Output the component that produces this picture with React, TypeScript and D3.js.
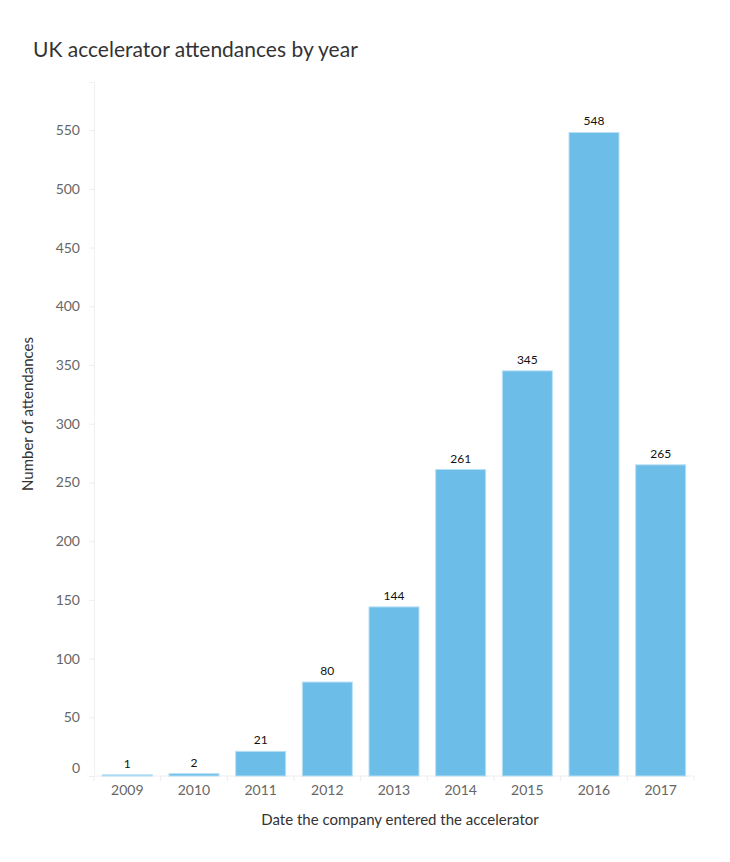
import React, { useEffect, useRef } from "react";
import * as d3 from "d3";

const years = ["2009", "2010", "2011", "2012", "2013", "2014", "2015", "2016", "2017"];
const attendances = [1, 2, 21, 80, 144, 261, 345, 548, 265];
const yTicks = [0, 50, 100, 150, 200, 250, 300, 350, 400, 450, 500, 550];

const title = "UK accelerator attendances by year";
const xTitle = "Date the company entered the accelerator";
const yTitle = "Number of attendances";

export default function App() {
  const svgRef = useRef<SVGSVGElement | null>(null);

  useEffect(() => {
    const width = 730,
      height = 862;
    const margin = { top: 82, right: 36, bottom: 86, left: 94 };
    const font = "'Source Sans Pro', Lato, 'Open Sans', sans-serif";

    const svg = d3.select(svgRef.current);
    svg.selectAll("*").remove();

    const x = d3
      .scaleBand()
      .domain(years)
      .range([margin.left, width - margin.right])
      .paddingInner(0.25)
      .paddingOuter(0.125);

    const y = d3
      .scaleLinear()
      .domain([0, 591])
      .range([height - margin.bottom, margin.top]);

    // title
    svg
      .append("text")
      .attr("x", 33)
      .attr("y", 57)
      .attr("font-family", font)
      .attr("font-size", 21)
      .attr("fill", "#333")
      .text(title);

    // y axis
    const yAxis = svg
      .append("g")
      .attr("transform", `translate(${margin.left},0)`)
      .call(d3.axisLeft(y).tickValues(yTicks).tickSize(5).tickPadding(9));
    yAxis.select(".domain").attr("stroke", "#f0f0f0");
    yAxis.selectAll(".tick line").attr("stroke", "#eeeeee");
    yAxis
      .selectAll<SVGTextElement, number>(".tick text")
      .attr("font-family", font)
      .attr("font-size", 14)
      .attr("fill", "#666")
      .attr("dy", d => (d === 0 ? "-0.25em" : "0.32em"));

    // x axis
    const base = height - margin.bottom;
    const xAxis = svg.append("g").attr("transform", `translate(0,${base})`);
    xAxis
      .append("line")
      .attr("x1", margin.left)
      .attr("x2", width - margin.right)
      .attr("stroke", "#eeeeee");
    const step = x.step();
    const bounds = years.map(yr => (x(yr) as number) - (step - x.bandwidth()) / 2).concat([width - margin.right]);
    xAxis
      .selectAll(".xtick")
      .data(bounds)
      .enter()
      .append("line")
      .attr("x1", d => d)
      .attr("x2", d => d)
      .attr("y1", 0)
      .attr("y2", 5)
      .attr("stroke", "#eeeeee");
    xAxis
      .selectAll(".xlabel")
      .data(years)
      .enter()
      .append("text")
      .attr("x", d => (x(d) as number) + x.bandwidth() / 2)
      .attr("y", 19)
      .attr("text-anchor", "middle")
      .attr("font-family", font)
      .attr("font-size", 14)
      .attr("fill", "#666")
      .text(d => d);

    // bars
    svg
      .selectAll(".bar")
      .data(years)
      .enter()
      .append("rect")
      .attr("x", d => x(d) as number)
      .attr("y", (d, i) => y(attendances[i]))
      .attr("width", x.bandwidth())
      .attr("height", (d, i) => base - y(attendances[i]))
      .attr("fill", "#6cbde8")
      .attr("stroke", "#b8e0f5")
      .attr("stroke-width", 1);

    // value labels
    svg
      .selectAll(".val")
      .data(years)
      .enter()
      .append("text")
      .attr("x", d => (x(d) as number) + x.bandwidth() / 2)
      .attr("y", (d, i) => y(attendances[i]) - 7)
      .attr("text-anchor", "middle")
      .attr("font-family", font)
      .attr("font-size", 12)
      .attr("fill", "#111")
      .text((d, i) => attendances[i]);

    // axis titles
    svg
      .append("text")
      .attr("x", 400)
      .attr("y", 825)
      .attr("text-anchor", "middle")
      .attr("font-family", font)
      .attr("font-size", 15)
      .attr("fill", "#333")
      .text(xTitle);

    svg
      .append("text")
      .attr("transform", `translate(33,414) rotate(-90)`)
      .attr("text-anchor", "middle")
      .attr("font-family", font)
      .attr("font-size", 15)
      .attr("fill", "#333")
      .text(yTitle);
  }, []);

  return (
    <svg
      ref={svgRef}
      width={730}
      height={862}
      style={{ position: "absolute", left: 0, top: 0, background: "#fff" }}
    ></svg>
  );
}
